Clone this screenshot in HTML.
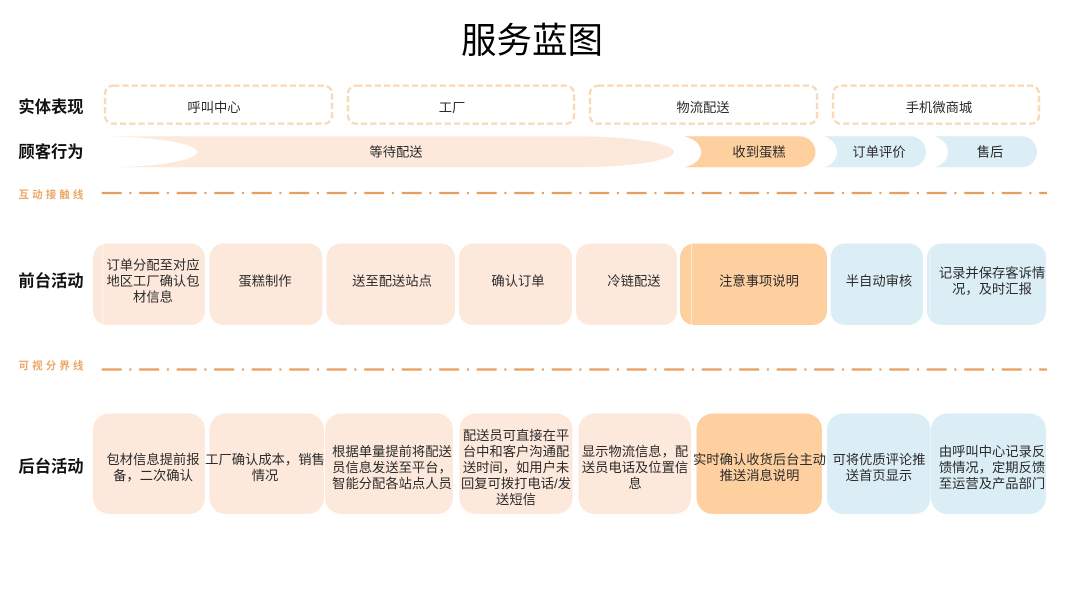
<!DOCTYPE html>
<html lang="zh">
<head>
<meta charset="utf-8">
<title>服务蓝图</title>
<style>
html,body{margin:0;padding:0;background:#fff;width:1067px;height:600px;overflow:hidden}
svg{display:block}
text{font-family:"Liberation Sans","Noto Sans CJK SC",sans-serif;fill:#2b2b2b;font-size:13.3px;text-anchor:middle}
.h{font-size:16.3px;font-weight:700;fill:#111}
.l{font-size:10.5px;font-weight:700;fill:#EDA868;letter-spacing:3.1px}
.t{font-size:35.5px;fill:#000}
</style>
</head>
<body>
<svg width="1067" height="600" viewBox="0 0 1067 600" xmlns="http://www.w3.org/2000/svg">
<text class="t" x="532" y="52.500">服务蓝图</text>

<!-- row labels -->
<text class="h" x="51" y="112.500">实体表现</text>
<text class="h" x="51" y="157.500">顾客行为</text>
<text class="h" x="51" y="286.500">前台活动</text>
<text class="h" x="51" y="472">后台活动</text>
<text class="l" x="52.500" y="198">互动接触线</text>
<text class="l" x="52.500" y="369">可视分界线</text>

<!-- physical evidence -->
<g fill="none" stroke="#F7DBB9" stroke-width="2.400" stroke-dasharray="6.400 2.900">
<rect x="105" y="85.700" width="227" height="38" rx="8"/>
<rect x="348" y="85.700" width="226" height="38" rx="8"/>
<rect x="590" y="85.700" width="227" height="38" rx="8"/>
<rect x="833" y="85.700" width="206" height="38" rx="8"/>
</g>
<text x="214" y="112">呼叫中心</text>
<text x="452" y="112">工厂</text>
<text x="703" y="112">物流配送</text>
<text x="939" y="112">手机微商城</text>

<!-- customer actions -->
<path d="M105 136.300H575C635 136.300 674 144 674 152C674 160 635 167.300 575 167.300H105C160 167 197 160 197 152C197 144 160 137 105 136.300Z" fill="#FDE9DC"/>
<path d="M684 136.300H799C808 136.300 815.500 143 815.500 152C815.500 161 808 167.300 799 167.300H684C695 165 701 159 701 152C701 145 695 139 684 136.300Z" fill="#FFD09F"/>
<path d="M824 136.300H910C919 136.300 926 143 926 152C926 161 919 167.300 910 167.300H824C832 165 837 159 837 152C837 145 832 139 824 136.300Z" fill="#DCEEF5"/>
<path d="M934 136.300H1021C1030 136.300 1037 143 1037 152C1037 161 1030 167.300 1021 167.300H934C943 165 948 159 948 152C948 145 943 139 934 136.300Z" fill="#DCEEF5"/>
<text x="396" y="156.500">等待配送</text>
<text x="759" y="156.500">收到蛋糕</text>
<text x="879" y="156.500">订单评价</text>
<text x="990" y="156.500">售后</text>

<!-- lines -->
<g fill="none" stroke="#E79E5E" stroke-width="2.200" stroke-dasharray="20 7.700 2 7.800">
<line x1="101.700" y1="193" x2="1047" y2="193"/>
<line x1="101.700" y1="369.500" x2="1047" y2="369.500"/>
</g>

<!-- front stage -->
<g fill="#FDE9DC">
<rect x="93" y="243.500" width="112" height="81.500" rx="14"/>
<rect x="209.500" y="243.500" width="113" height="81.500" rx="14"/>
<rect x="326.500" y="243.500" width="128.500" height="81.500" rx="14"/>
<rect x="459" y="243.500" width="113" height="81.500" rx="14"/>
<rect x="576" y="243.500" width="101" height="81.500" rx="14"/>
</g>
<rect x="680" y="243.500" width="147" height="81.500" rx="14" fill="#FFD09F"/>
<rect x="830.500" y="243.500" width="92.500" height="81.500" rx="14" fill="#DCEEF5"/>
<rect x="927" y="243.500" width="119" height="81.500" rx="14" fill="#DCEEF5"/>
<g stroke="#fff" stroke-opacity=".5" stroke-width="1">
<line x1="103" y1="244" x2="103" y2="325"/>
<line x1="691.500" y1="244" x2="691.500" y2="325"/>
<line x1="930" y1="250" x2="930" y2="320"/>
</g>
<text x="153" y="269.500">订单分配至对应</text>
<text x="153" y="285.500">地区工厂确认包</text>
<text x="153" y="301.500">材信息</text>
<text x="265" y="285.500">蛋糕制作</text>
<text x="392" y="285.500">送至配送站点</text>
<text x="518" y="285.500">确认订单</text>
<text x="634" y="285.500">冷链配送</text>
<text x="759" y="285.500">注意事项说明</text>
<text x="879" y="285.500">半自动审核</text>
<text x="992" y="277.500">记录并保存客诉情</text>
<text x="992" y="293.500">况，及时汇报</text>

<!-- back stage -->
<g fill="#FDE9DC">
<rect x="93" y="413.500" width="112" height="100.500" rx="16"/>
<rect x="209.500" y="413.500" width="114.500" height="100.500" rx="16"/>
<rect x="325" y="413.500" width="128" height="100.500" rx="16"/>
<rect x="459.500" y="413.500" width="113" height="100.500" rx="16"/>
<rect x="578.500" y="413.500" width="112.500" height="100.500" rx="16"/>
</g>
<rect x="696.500" y="413.500" width="125.500" height="100.500" rx="16" fill="#FFD09F"/>
<rect x="827" y="413.500" width="103.500" height="100.500" rx="16" fill="#DCEEF5"/>
<rect x="931" y="413.500" width="115" height="100.500" rx="16" fill="#DCEEF5"/>
<text x="153" y="464">包材信息提前报</text>
<text x="153" y="480">备，二次确认</text>
<text x="265" y="464">工厂确认成本，销售</text>
<text x="265" y="480">情况</text>
<text x="392" y="456">根据单量提前将配送</text>
<text x="392" y="472">员信息发送至平台，</text>
<text x="392" y="488">智能分配各站点人员</text>
<text x="516" y="440">配送员可直接在平</text>
<text x="516" y="456">台中和客户沟通配</text>
<text x="516" y="472">送时间，如用户未</text>
<text x="516" y="488">回复可拨打电话/发</text>
<text x="516" y="504">送短信</text>
<text x="635" y="456">显示物流信息，配</text>
<text x="635" y="472">送员电话及位置信</text>
<text x="635" y="488">息</text>
<text x="759.500" y="464">实时确认收货后台主动</text>
<text x="759.500" y="480">推送消息说明</text>
<text x="879" y="464">可将优质评论推</text>
<text x="879" y="480">送首页显示</text>
<text x="992" y="456">由呼叫中心记录反</text>
<text x="992" y="472">馈情况，定期反馈</text>
<text x="992" y="488">至运营及产品部门</text>
</svg>
</body>
</html>
